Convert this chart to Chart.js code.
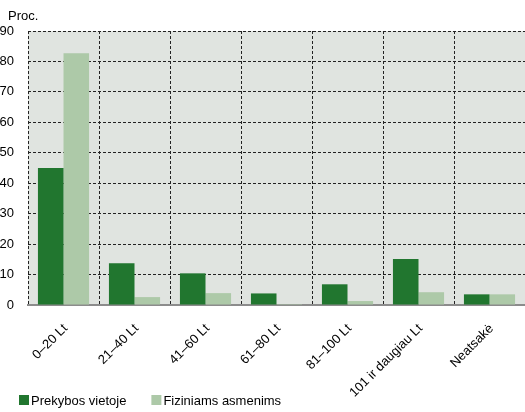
<!DOCTYPE html>
<html>
<head>
<meta charset="utf-8">
<script src="https://cdn.jsdelivr.net/npm/chart.js@4/dist/chart.umd.min.js"></script>
<style>
  body { margin: 0; background: #fff; }
  #wrap { width: 525px; height: 412px; position: relative; }
</style>
</head>
<body>
<div id="wrap"><canvas id="priceChart"></canvas></div>
<script>
const categories = ["0–20 Lt", "21–40 Lt", "41–60 Lt", "61–80 Lt", "81–100 Lt", "101 ir daugiau Lt", "Neatsakė"];
const seriesNames = ["Prekybos vietoje", "Fiziniams asmenims"];
const atPoint = [45, 13.7, 10.4, 3.8, 6.8, 15.1, 3.5];
const toPersons = [82.7, 2.6, 3.9, 0.3, 1.3, 4.2, 3.5];
const yTicks = [0, 10, 20, 30, 40, 50, 60, 70, 80, 90];

const FONT = "'Liberation Sans', Arial, sans-serif";

// plot background, unit label and the legend row under the axis
const decor = {
  id: "decor",
  beforeDraw(chart) {
    const { ctx, chartArea: a } = chart;
    ctx.save();
    ctx.fillStyle = "#e0e4e0";
    ctx.fillRect(a.left, a.top, a.right - a.left, a.bottom - a.top);
    ctx.restore();
  },
  afterDraw(chart) {
    const ctx = chart.ctx;
    ctx.save();
    ctx.font = "13px " + FONT;
    ctx.fillStyle = "#000";
    ctx.textBaseline = "alphabetic";
    ctx.fillText("Proc.", 8, 20);
    let x = 19;
    chart.data.datasets.forEach((ds) => {
      ctx.fillStyle = ds.backgroundColor;
      ctx.fillRect(x, 395, 10, 10);
      ctx.fillStyle = "#000";
      ctx.fillText(ds.label, x + 12, 405);
      x += 12 + ctx.measureText(ds.label).width + 25;
    });
    ctx.restore();
  },
};

new Chart(document.querySelector("#priceChart"), {
  type: "bar",
  data: {
    labels: categories,
    datasets: [
      { label: seriesNames[0], data: atPoint, backgroundColor: "#21762f" },
      { label: seriesNames[1], data: toPersons, backgroundColor: "#adc9a8" },
    ],
  },
  options: {
    responsive: true,
    maintainAspectRatio: false,
    animation: false,
    layout: { padding: { top: 31, right: 0, bottom: 0, left: 0 } },
    categoryPercentage: 0.72,
    barPercentage: 1,
    plugins: {
      legend: { display: false },
      tooltip: { enabled: false },
    },
    scales: {
      x: {
        afterFit: (scale) => { scale.height = 107; },
        // vertical dashed lines between the categories, incl. the left edge
        grid: { offset: true, color: "#222", lineWidth: 1, drawTicks: false },
        border: { display: true, color: "#8c8c8c", width: 2, dash: [3, 2] },
        ticks: {
          autoSkip: false,
          minRotation: 45,
          maxRotation: 45,
          padding: 16,
          labelOffset: 2,
          color: "#000",
          font: { family: FONT, size: 13 },
        },
      },
      y: {
        min: 0,
        max: 90,
        afterFit: (scale) => { scale.width = 28; },
        afterBuildTicks: (scale) => { scale.ticks = yTicks.map((v) => ({ value: v })); },
        grid: { color: "#222", lineWidth: 1, drawTicks: false },
        border: { display: false, dash: [3, 2] },
        ticks: {
          padding: 14,
          color: "#000",
          font: { family: FONT, size: 13 },
        },
      },
    },
  },
  plugins: [decor],
});
</script>
</body>
</html>
